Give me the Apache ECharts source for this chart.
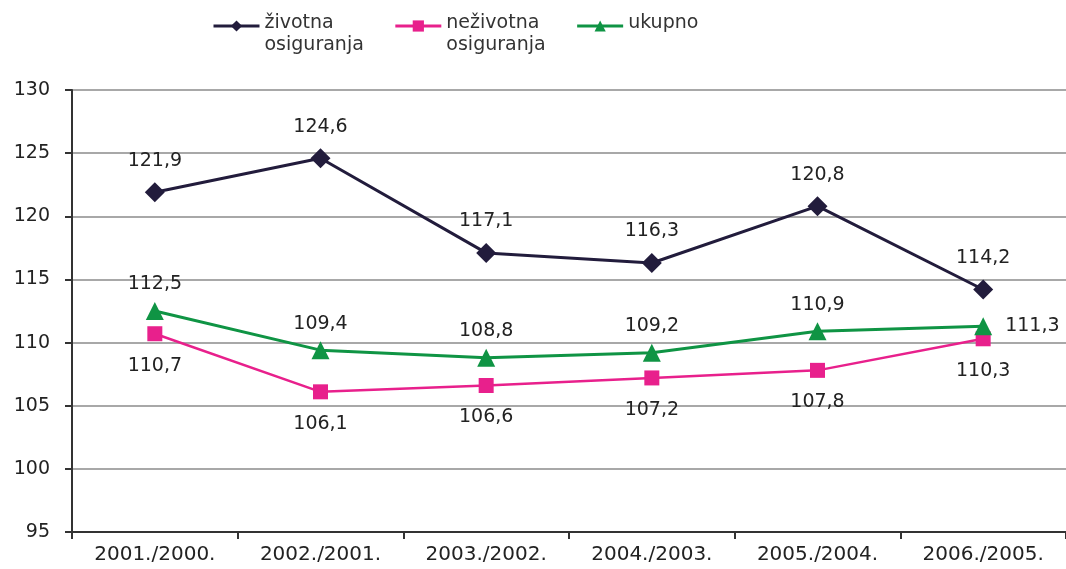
<!DOCTYPE html>
<html>
<head>
<meta charset="utf-8">
<script src="https://cdn.jsdelivr.net/npm/echarts@6/dist/echarts.min.js"></script>
<style>
  html, body { margin: 0; padding: 0; background: #fff; }
  #main { width: 1066px; height: 569px; }
</style>
</head>
<body>
<div id="main"></div>
<script>
// podaci
var kategorije = ['2001./2000.', '2002./2001.', '2003./2002.', '2004./2003.', '2005./2004.', '2006./2005.'];
var zivotna = [121.9, 124.6, 117.1, 116.3, 120.8, 114.2];
var nezivotna = [110.7, 106.1, 106.6, 107.2, 107.8, 110.3];
var ukupno = [112.5, 109.4, 108.8, 109.2, 110.9, 111.3];
var yTicks = [95, 100, 105, 110, 115, 120, 125, 130];

var font = 'DejaVu Sans, sans-serif';

function fmt(p) {
    return String(p.value).replace('.', ',');
}

// legenda: ikona poravnata s prvim redom teksta
function legendFmt(name) {
    var dijelovi = name.split('\n');
    var s = '{s| }';
    dijelovi.forEach(function (d) {
        s += '\n{a|' + d + '}';
    });
    if (dijelovi.length === 1) {
        s += '\n{a| }';
    }
    return s;
}

var option = {
    animation: false,
    textStyle: { fontFamily: font },
    legend: {
        top: -6,
        left: 207,
        itemGap: 30,
        itemWidth: 46,
        itemHeight: 14,
        lineStyle: { width: 3 },
        formatter: legendFmt,
        textStyle: {
            fontSize: 19, color: '#333', fontFamily: font,
            rich: {
                s: { fontSize: 10, lineHeight: 16, fontFamily: font },
                a: { fontSize: 19, lineHeight: 22, color: '#333', fontFamily: font }
            }
        },
        data: ['životna\nosiguranja', 'neživotna\nosiguranja', 'ukupno']
    },
    grid: { left: 72, top: 90, right: 0, height: 442 },
    xAxis: {
        type: 'category',
        data: kategorije,
        boundaryGap: true,
        axisLine: { lineStyle: { color: '#333', width: 2 } },
        axisTick: { show: true, length: 7, lineStyle: { color: '#333', width: 2 } },
        axisLabel: { fontSize: 20, color: '#222', margin: 13, fontFamily: font }
    },
    yAxis: {
        type: 'value',
        min: yTicks[0],
        max: yTicks[yTicks.length - 1],
        interval: 5,
        axisLine: { show: true, lineStyle: { color: '#333', width: 2 } },
        axisTick: { show: true, length: 7, lineStyle: { color: '#333', width: 2 } },
        axisLabel: { fontSize: 19, color: '#222', margin: 22, fontFamily: font },
        splitLine: { lineStyle: { color: '#a8a8a8', width: 2 } }
    },
    series: [
        {
            name: 'životna\nosiguranja',
            type: 'line',
            data: zivotna,
            symbol: 'diamond',
            symbolSize: [20, 20],
            lineStyle: { color: '#221c3c', width: 3 },
            itemStyle: { color: '#221c3c' },
            label: { show: true, position: 'top', distance: 12, fontSize: 19, color: '#222', formatter: fmt }
        },
        {
            name: 'neživotna\nosiguranja',
            type: 'line',
            data: nezivotna,
            symbol: 'rect',
            symbolSize: 15,
            lineStyle: { color: '#e8208c', width: 2.5 },
            itemStyle: { color: '#e8208c' },
            label: { show: true, position: 'bottom', distance: 15, fontSize: 19, color: '#222', formatter: fmt }
        },
        {
            name: 'ukupno',
            type: 'line',
            data: ukupno.map(function (v, i) {
                if (i === ukupno.length - 1) {
                    return { value: v, label: { position: 'right', distance: 13 } };
                }
                return v;
            }),
            symbol: 'triangle',
            symbolSize: 18,
            lineStyle: { color: '#0f9444', width: 3 },
            itemStyle: { color: '#0f9444' },
            label: { show: true, position: 'top', distance: 8, fontSize: 19, color: '#222', formatter: fmt }
        }
    ]
};

var myChart = echarts.init(document.getElementById('main'));
myChart.setOption(option);
</script>
</body>
</html>
